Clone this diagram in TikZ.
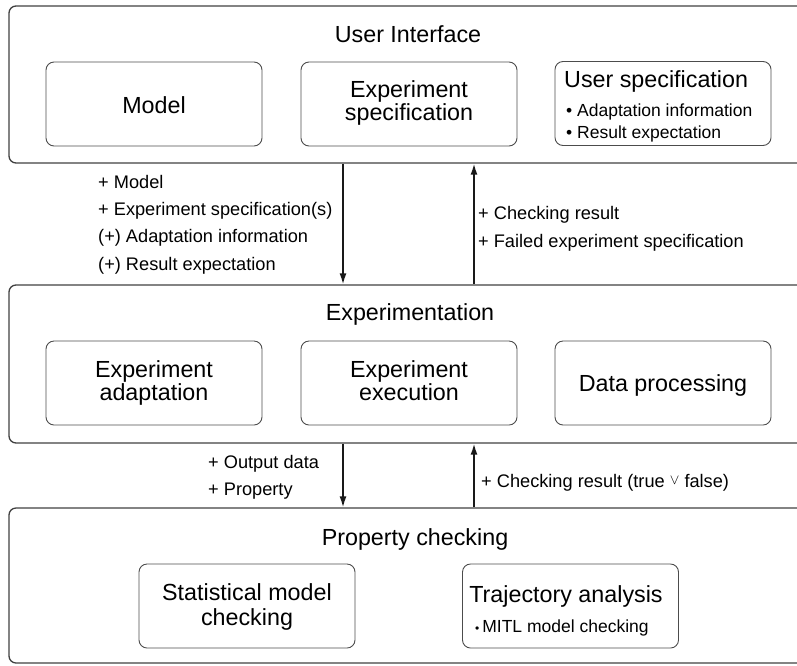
\documentclass[tikz,border=0pt]{standalone}
\usepackage{fontspec}
\setmainfont{Liberation Sans}
\usetikzlibrary{arrows.meta}
\begin{document}
\begin{tikzpicture}[x=1pt,y=-1pt,
  outer/.style={draw=black!75, line width=1.3pt, rounded corners=7pt, inner sep=0pt},
  innerbox/.style={draw=black!70, line width=0.9pt, rounded corners=8pt, minimum width=216pt, minimum height=84pt, inner sep=0pt},
  ttl/.style={font=\fontsize{23.3}{24}\selectfont, inner sep=0pt, anchor=base},
  ttlw/.style={font=\fontsize{23.3}{24}\selectfont, inner sep=0pt, anchor=base west},
  bul/.style={font=\fontsize{17.5}{20}\selectfont, inner sep=0pt, anchor=base west},
  lbl/.style={font=\fontsize{18.2}{20}\selectfont, inner sep=0pt, anchor=base west},
  arr/.style={line width=1.6pt, draw=black!90, -{Latex[length=11pt,width=7pt]}}]
\useasboundingbox (0,0) rectangle (797,665);
\clip (0,0) rectangle (797,665);

% outer layers
\node[outer, minimum width=801pt, minimum height=157pt] (ui)  at (409.5,84.5) {};
\node[outer, minimum width=801pt, minimum height=158pt] (exp) at (409.5,364) {};
\node[outer, minimum width=801pt, minimum height=155pt] (pc)  at (409.5,585.5) {};

% titles
\node[ttl] (uit) at (408,42) {User Interface};
\node[ttl] (expt) at (410,320) {Experimentation};
\node[ttl] (pct) at (415,545) {Property checking};

% user interface boxes
\node[innerbox] (model) at (154,104) {};
\node[ttl] (modelt) at (154,113) {Model};
\node[innerbox] (espec) at (409,104) {};
\node[ttl] (espec1) at (409,97) {Experiment};
\node[ttl] (espec2) at (409,120) {specification};
\node[innerbox] (uspec) at (663,103.5) {};
\node[ttlw] (uspect) at (564,87) {User specification};
\node[bul] (ub1) at (566,116) {\textbullet\ Adaptation information};
\node[bul] (ub2) at (566,138) {\textbullet\ Result expectation};

% experimentation boxes
\node[innerbox] (eadapt) at (154,383) {};
\node[ttl] (eadapt1) at (154,377) {Experiment};
\node[ttl] (eadapt2) at (154,400) {adaptation};
\node[innerbox] (eexec) at (409,383) {};
\node[ttl] (eexec1) at (409,377) {Experiment};
\node[ttl] (eexec2) at (409,400) {execution};
\node[innerbox] (dproc) at (663,383) {};
\node[ttl] (dproct) at (663,391) {Data processing};

% property checking boxes
\node[innerbox] (smc) at (247,606) {};
\node[ttl] (smc1) at (247,600) {Statistical model};
\node[ttl] (smc2) at (247,625) {checking};
\node[innerbox] (traj) at (570.5,606) {};
\node[ttl] (trajt) at (566,602) {Trajectory analysis};
\node[bul] (tb1) at (475,632) {{\fontsize{12}{12}\selectfont\textbullet}\,MITL model checking};

% connectors
\coordinate (dx) at (343,0);
\coordinate (ux) at (474,0);
\draw[arr] (ui.south -| dx) -- (exp.north -| dx);
\draw[arr] (exp.north -| ux) -- (ui.south -| ux);
\draw[arr] (exp.south -| dx) -- (pc.north -| dx);
\draw[arr] (pc.north -| ux) -- (exp.south -| ux);

% labels
\node[lbl] (l1) at (98,188) {+ Model};
\node[lbl] (l2) at (98,215) {+ Experiment specification(s)};
\node[lbl] (l3) at (98,242.5) {(+) Adaptation information};
\node[lbl] (l4) at (98,270) {(+) Result expectation};
\node[lbl] (r1) at (478,219) {+ Checking result};
\node[lbl] (r2) at (478,247) {+ Failed experiment specification};
\node[lbl] (b1) at (208,468) {+ Output data};
\node[lbl] (b2) at (208,495) {+ Property};
\node[lbl] (b3) at (481,487) {+ Checking result (true \raisebox{3pt}{\fontsize{14}{14}\selectfont$\vee$} false)};
\end{tikzpicture}
\end{document}
